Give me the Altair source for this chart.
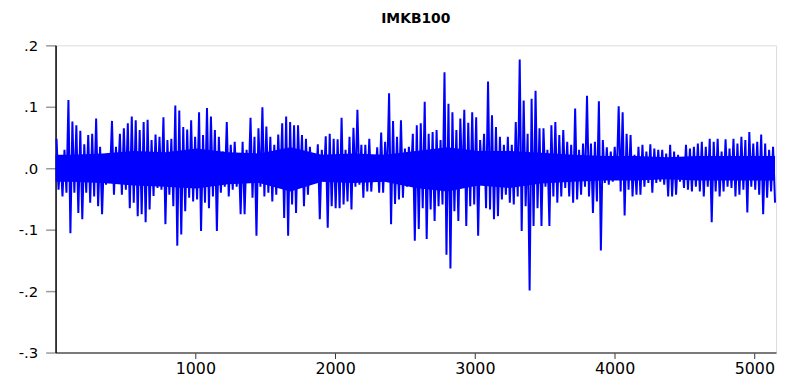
import altair as alt
import pandas as pd

# Series: for each narrow slice of the sample
# (about 28 observations wide) the highest and the lowest daily return.
highs = [
    .048, .019, .030, .111, .076, .070, .061, .039, .054, .056, .081, .035,
    .022, .024, .077, .035, .056, .065, .073, .084, .078, .062, .075, .079,
    .046, .055, .051, .083, .046, .048, .102, .094, .067, .063, .078, .051,
    .091, .054, .098, .084, .062, .051, .027, .075, .038, .043, .022,
    .043, .030, .082, .051, .065, .099, .068, .051, .038, .055, .073, .084,
    .075, .070, .070, .054, .048, .035, .024, .039, .030, .052, .056, .048,
    .047, .082, .030, .051, .066, .095, .038, .038, .048, .016, .034, .058,
    .043, .122, .077, .051, .078, .032, .035, .056, .070, .073, .108, .056,
    .059, .062, .046, .156, .105, .091, .062, .081, .095, .074, .091, .083,
    .046, .056, .141, .086, .067, .051, .038, .051, .038, .075, .177,
    .110, .056, .113, .126, .065, .065, .030, .070, .075, .054, .062, .043,
    .038, .097, .030, .040, .118, .040, .043, .109, .046, .034, .027, .035,
    .101, .091, .056, .054, .022, .035, .038, .027, .039, .032, .030, .030,
    .024, .038, .027, .022, .016, .038, .032, .035, .040, .043, .035, .048,
    .043, .048, .027, .047, .032, .048, .040, .051, .046, .059, .040, .043,
    .055, .040, .030, .035,
]
lows = [
    -.035, -.046, -.040, -.106, -.040, -.073, -.083, -.040, -.056, -.046, -.062, -.075,
    -.027, -.011, -.043, -.019, -.043, -.035, -.065, -.056, -.078, -.075, -.088, -.067,
    -.045, -.032, -.035, -.091, -.043, -.062, -.126, -.108, -.070, -.048, -.054, -.051,
    -.102, -.056, -.065, -.046, -.102, -.040, -.030, -.046, -.035, -.030, -.075,
    -.075, -.024, -.048, -.110, -.030, -.046, -.040, -.054, -.043, -.030, -.081, -.110,
    -.059, -.073, -.027, -.062, -.043, -.019, -.024, -.083, -.022, -.097, -.062, -.065,
    -.065, -.059, -.054, -.067, -.030, -.027, -.048, -.038, -.038, -.019, -.040, -.040,
    -.019, -.091, -.058, -.051, -.048, -.030, -.019, -.118, -.099, -.065, -.115, -.067,
    -.086, -.062, -.059, -.141, -.163, -.070, -.086, -.030, -.094, -.062, -.059, -.110,
    -.019, -.065, -.067, -.083, -.078, -.051, -.043, -.056, -.059, -.046, -.102,
    -.062, -.199, -.094, -.065, -.094, -.030, -.094, -.046, -.056, -.046, -.032, -.046,
    -.056, -.051, -.043, -.030, -.046, -.073, -.054, -.134, -.024, -.027, -.022, -.019,
    -.038, -.077, -.035, -.046, -.043, -.043, -.030, -.024, -.040, -.024, -.022, -.027,
    -.046, -.046, -.043, -.022, -.032, -.035, -.038, -.030, -.038, -.046, -.030, -.088,
    -.038, -.046, -.038, -.030, -.032, -.046, -.043, -.035, -.072, -.030, -.035, -.043,
    -.075, -.048, -.038, -.056,
]
# The solid core of the band (where daily moves overlap completely),
# read every ~227 observations.
core_hi = [.022, .024, .028, .026, .032, .026, .024, .034, .022, .024, .022, .028,
           .034, .028, .028, .025, .022, .020, .020, .018, .020, .020, .020]
core_lo = [-.022, -.024, -.028, -.030, -.033, -.026, -.024, -.038, -.022, -.024, -.022, -.032,
           -.038, -.028, -.032, -.025, -.022, -.020, -.020, -.018, -.020, -.020, -.020]
n_obs = 5155
x_ticks = [1000, 2000, 3000, 4000, 5000]
y_ticks = [0.2, 0.1, 0.0, -0.1, -0.2, -0.3]
title_text = "IMKB100"

step = n_obs / len(highs)
rows = []
for k, (h, l) in enumerate(zip(highs, lows)):
    rows.append({"obs": k * step + step * 0.25, "value": h})
    rows.append({"obs": k * step + step * 0.75, "value": l})
df = pd.DataFrame(rows)

core_step = n_obs / len(core_hi)
core_rows = []
for j, (h, l) in enumerate(zip(core_hi, core_lo)):
    core_rows.append({"obs": j * core_step + core_step * 0.5, "hi": h, "lo": l})
core_rows.insert(0, {"obs": 0, "hi": core_hi[0], "lo": core_lo[0]})
core_rows.append({"obs": n_obs - step * 0.25, "hi": core_hi[-1], "lo": core_lo[-1]})
core_df = pd.DataFrame(core_rows)

x_scale = alt.Scale(domain=[0, n_obs], nice=False, zero=False)
y_scale = alt.Scale(domain=[-0.3, 0.2], nice=False, zero=False)

x_axis = alt.Axis(
    values=x_ticks, title=None, grid=False, format="d",
    domainColor="#555555", domainWidth=1.5,
    tickColor="#333333", tickSize=6, tickWidth=1,
    labelFont="DejaVu Sans", labelFontSize=16, labelColor="#000000",
    labelPadding=2,
)
y_axis = alt.Axis(
    values=y_ticks, title=None, grid=False,
    labelExpr="(datum.value < 0 ? '-' : '') + '.' + format(abs(datum.value) * 10, '.0f')",
    domainColor="#000000", domainWidth=1.5,
    tickColor="#999999", tickSize=10, tickWidth=1.5,
    labelFont="DejaVu Sans", labelFontSize=15, labelColor="#000000",
    labelPadding=8,
)

core = (
    alt.Chart(core_df)
    .mark_area(color="#0000FF", opacity=1)
    .encode(
        x=alt.X("obs:Q", scale=x_scale, axis=x_axis),
        y=alt.Y("lo:Q", scale=y_scale, axis=y_axis),
        y2="hi:Q",
    )
)

line = (
    alt.Chart(df)
    .mark_line(color="#0000FF", strokeWidth=2.0, strokeJoin="bevel")
    .encode(
        x=alt.X("obs:Q", scale=x_scale, axis=x_axis),
        y=alt.Y("value:Q", scale=y_scale, axis=y_axis),
    )
)

chart = (
    alt.layer(core, line)
    .properties(
        width=727,
        height=310,
        autosize=alt.AutoSizeParams(type="none"),
        padding={"left": 48, "top": 36, "right": 4, "bottom": 23},
        title=alt.TitleParams(
            title_text, font="DejaVu Sans", fontSize=14, fontWeight="bold",
            color="#000000", anchor="middle", offset=13,
        ),
    )
    .configure_view(stroke="#000000", strokeWidth=1.5)
    .configure(background="#ffffff")
)

chart.save("out.html", embed_options={"renderer": "svg", "actions": False})
